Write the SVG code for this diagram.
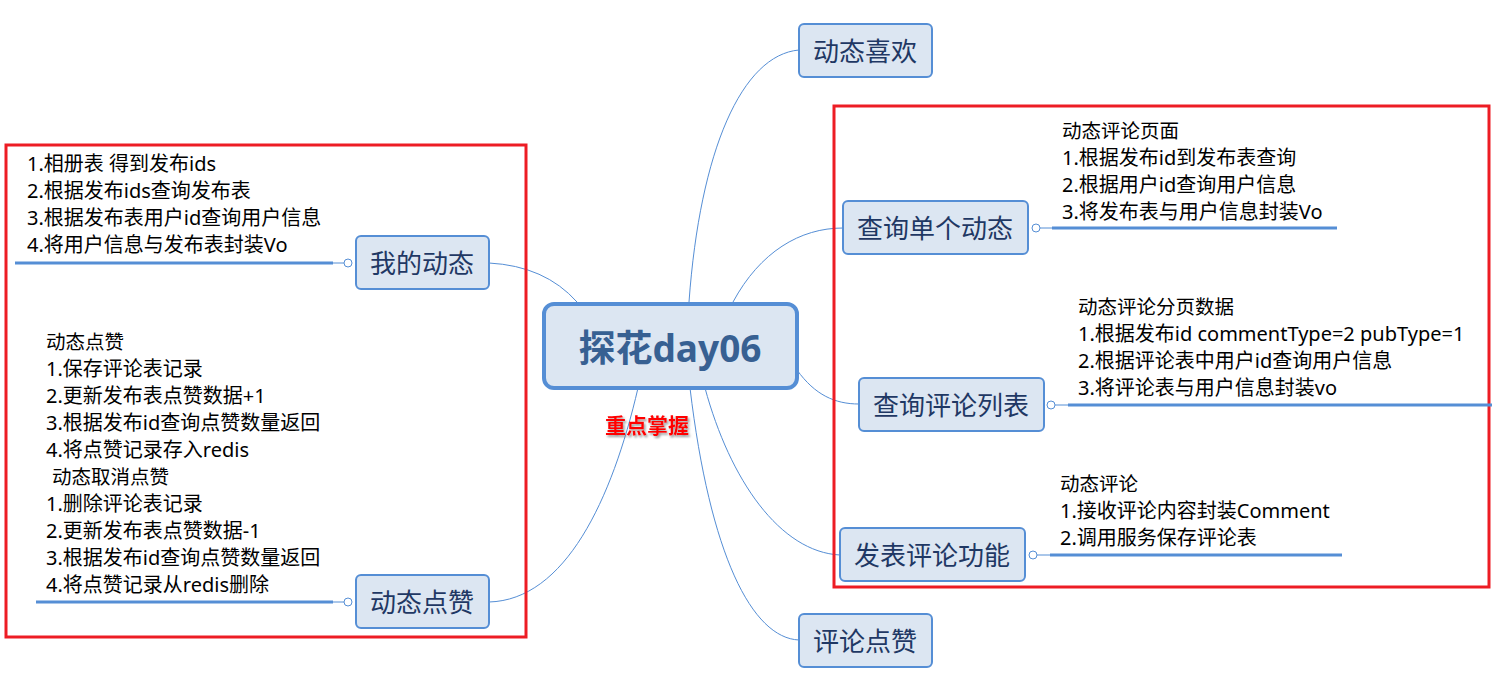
<svg xmlns="http://www.w3.org/2000/svg" width="1509" height="691" viewBox="0 0 1509 691">
<style>
text{font-family:"Noto Sans","Noto Sans CJK SC",sans-serif;dominant-baseline:central}
.node rect{fill:#DCE6F2;stroke:#558ED5;stroke-width:2}
.node text{font-size:26px;fill:#1F3864;text-anchor:middle}
.note{font-size:20px;fill:#000}
.note2{font-size:19.5px;fill:#000}
.conn path{fill:none;stroke:#558ED5;stroke-width:1}
.ul{stroke:#558ED5;stroke-width:3}
.thin{stroke:#558ED5;stroke-width:1;fill:none}
.knob{fill:#fff;stroke:#558ED5;stroke-width:1}
.frame{fill:none;stroke:#ED1C24;stroke-width:3}
</style>
<defs>
<filter id="sh" x="-10%" y="-20%" width="130%" height="160%">
<feDropShadow dx="1.5" dy="2" stdDeviation="1" flood-color="#808080" flood-opacity="0.8"/>
</filter>
</defs>
<rect width="1509" height="691" fill="#fff"/>
<g class="conn">
<path d="M577,302 Q545,266 489,263"/>
<path d="M638,388 C612,500 565,600 489,602"/>
<path d="M689,302 C700,150 742,55 799,50"/>
<path d="M733,302 C760,252 800,228 843,228"/>
<path d="M797,370 C815,395 835,404 859,404"/>
<path d="M705,388 C730,480 780,552 840,555"/>
<path d="M690,388 C710,555 752,638 799,640"/>
</g>
<rect class="frame" x="6" y="145" width="520" height="492"/>
<rect class="frame" x="834" y="106" width="655" height="481"/>
<g id="center" class="node">
<rect x="544" y="304" width="253" height="84" rx="10" style="stroke-width:4"/>
<text x="670" y="347" style="font-size:37px;font-weight:bold;fill:#376092">探花day06</text>
</g>
<text x="647" y="425" filter="url(#sh)" style="font-size:21px;font-weight:bold;fill:#FF0000;text-anchor:middle">重点掌握</text>
<g id="my-dynamic" class="node">
<rect x="356" y="236" width="133" height="53" rx="5"/>
<text x="422" y="263">我的动态</text>
</g>
<g id="my-dynamic-notes">
<text class="note" x="27" y="163">1.相册表 得到发布ids</text>
<text class="note" x="27" y="190">2.根据发布ids查询发布表</text>
<text class="note" x="27" y="217">3.根据发布表用户id查询用户信息</text>
<text class="note" x="27" y="244">4.将用户信息与发布表封装Vo</text>
<line class="ul" x1="15" y1="263" x2="333" y2="263"/>
<line class="thin" x1="333" y1="263" x2="344" y2="263"/>
<circle class="knob" cx="348" cy="263" r="4"/>
</g>
<g id="like" class="node">
<rect x="356" y="575" width="133" height="53" rx="5"/>
<text x="422" y="602">动态点赞</text>
</g>
<g id="like-notes">
<text class="note2" x="46" y="341">动态点赞</text>
<text class="note" x="46" y="368">1.保存评论表记录</text>
<text class="note" x="46" y="395">2.更新发布表点赞数据+1</text>
<text class="note" x="46" y="422">3.根据发布id查询点赞数量返回</text>
<text class="note" x="46" y="449">4.将点赞记录存入redis</text>
<text class="note2" x="52" y="476">动态取消点赞</text>
<text class="note" x="46" y="503">1.删除评论表记录</text>
<text class="note" x="46" y="530">2.更新发布表点赞数据-1</text>
<text class="note" x="46" y="557">3.根据发布id查询点赞数量返回</text>
<text class="note" x="46" y="584">4.将点赞记录从redis删除</text>
<line class="ul" x1="36" y1="602" x2="333" y2="602"/>
<line class="thin" x1="333" y1="602" x2="344" y2="602"/>
<circle class="knob" cx="348" cy="602" r="4"/>
</g>
<g id="dyn-love" class="node">
<rect x="799" y="24" width="133" height="53" rx="5"/>
<text x="865" y="51">动态喜欢</text>
</g>
<g id="single" class="node">
<rect x="843" y="201" width="185" height="53" rx="5"/>
<text x="935" y="228">查询单个动态</text>
</g>
<g id="single-notes">
<text class="note2" x="1062" y="130">动态评论页面</text>
<text class="note" x="1062" y="157">1.根据发布id到发布表查询</text>
<text class="note" x="1062" y="184">2.根据用户id查询用户信息</text>
<text class="note" x="1062" y="211">3.将发布表与用户信息封装Vo</text>
<line class="ul" x1="1052" y1="228" x2="1337" y2="228"/>
<line class="thin" x1="1040" y1="228" x2="1052" y2="228"/>
<circle class="knob" cx="1036" cy="228" r="4"/>
</g>
<g id="list" class="node">
<rect x="859" y="378" width="185" height="53" rx="5"/>
<text x="951" y="405">查询评论列表</text>
</g>
<g id="list-notes">
<text class="note2" x="1078" y="306">动态评论分页数据</text>
<text class="note" x="1078" y="333">1.根据发布id commentType=2 pubType=1</text>
<text class="note" x="1078" y="360">2.根据评论表中用户id查询用户信息</text>
<text class="note" x="1078" y="387">3.将评论表与用户信息封装vo</text>
<line class="ul" x1="1068" y1="405" x2="1492" y2="405"/>
<line class="thin" x1="1055" y1="405" x2="1068" y2="405"/>
<circle class="knob" cx="1051" cy="405" r="4"/>
</g>
<g id="post" class="node">
<rect x="840" y="528" width="185" height="53" rx="5"/>
<text x="932" y="555">发表评论功能</text>
</g>
<g id="post-notes">
<text class="note2" x="1060" y="483">动态评论</text>
<text class="note" x="1060" y="510">1.接收评论内容封装Comment</text>
<text class="note" x="1060" y="537">2.调用服务保存评论表</text>
<line class="ul" x1="1050" y1="555" x2="1342" y2="555"/>
<line class="thin" x1="1037" y1="555" x2="1050" y2="555"/>
<circle class="knob" cx="1033" cy="555" r="4"/>
</g>
<g id="comment-like" class="node">
<rect x="799" y="614" width="133" height="53" rx="5"/>
<text x="865" y="641">评论点赞</text>
</g>
</svg>
